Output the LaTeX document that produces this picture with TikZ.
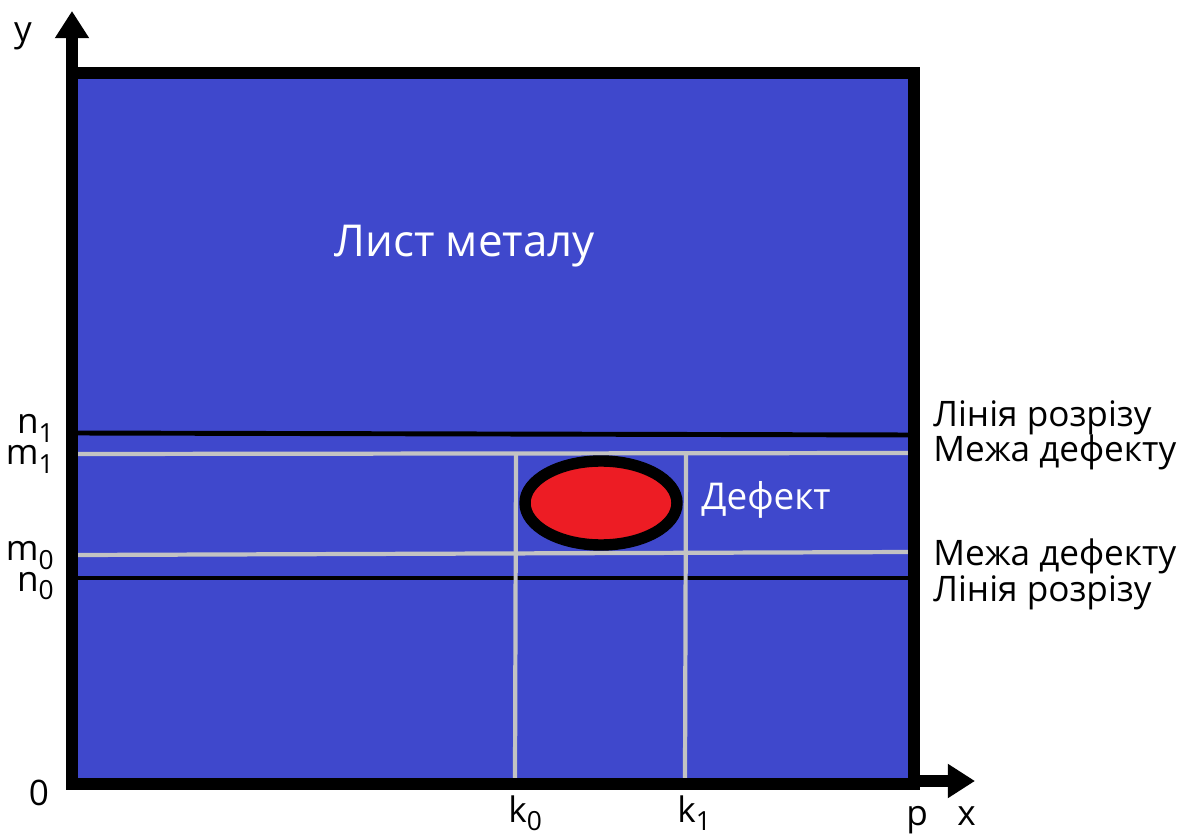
\documentclass[tikz,border=0pt]{standalone}
\usepackage{fontspec}
\setmainfont{Open Sans}
\usetikzlibrary{arrows.meta, positioning}

\definecolor{sheetblue}{RGB}{63,72,204}
\definecolor{defectred}{RGB}{237,28,36}
\definecolor{gridgrey}{RGB}{195,195,195}

\newcommand{\subl}[2]{#1\raisebox{-5pt}{\fontsize{15pt}{15pt}\selectfont #2}}

\begin{document}
\begin{tikzpicture}[
  x=0.02cm, y=-0.02cm,
  sheet/.style={fill=sheetblue},
  frame/.style={draw=black, line width=6.3pt},
  cutline/.style={draw=black, line width=2.8pt},
  defectline/.style={draw=gridgrey, line width=2.4pt},
  axis/.style={draw=black, line width=6.6pt, -{Triangle[width=18.5pt, length=15.5pt]}},
  lbl/.style={inner sep=0pt, font=\fontsize{20pt}{23pt}\selectfont},
  white lbl/.style={lbl, text=white}
]
\useasboundingbox (0,0) rectangle (1200,837);

% Sheet
\fill[sheet] (72,73) rectangle (914,784);
\coordinate (origin) at (72,784);
\coordinate (corner) at (914,73);

% Cut lines and defect bounds
\draw[cutline] (72,433) -- (914,435);
\draw[cutline] (72,578) -- (914,578);
\draw[defectline] (76,454) -- (908,453);
\draw[defectline] (78,555) -- (912,552);
\draw[defectline] (516,454) -- (515,780);
\draw[defectline] (686,454) -- (685,780);

% Defect
\draw[line width=6.5pt, fill=defectred] (601,503) ellipse [x radius=76, y radius=42];

% Frame
\draw[frame] (origin) rectangle (corner);

% Axes
\coordinate (ytip) at (72,11);
\coordinate (xtip) at (975,781);
\draw[axis] (72,78) -- (ytip);
\draw[axis] (909,781) -- (xtip);

% Labels
\node[white lbl, font=\fontsize{25pt}{28pt}\selectfont, anchor=base west] (title) at (334,257) {Лист металу};
\node[white lbl, font=\fontsize{21pt}{24pt}\selectfont, anchor=base west] (defect) at (701,510) {Дефект};

\node[lbl, anchor=base west] (cut1) at (933,427) {Лінія розрізу};
\node[lbl, anchor=base west] (bound1) at (933,462) {Межа дефекту};
\node[lbl, anchor=base west] (bound0) at (933,565) {Межа дефекту};
\node[lbl, anchor=base west] (cut0) at (933,602) {Лінія розрізу};

\node[lbl, anchor=base east] (n1) at (54,434) {\subl{n}{1}};
\node[lbl, anchor=base east] (m1) at (54,465) {\subl{m}{1}};
\node[lbl, anchor=base east] (m0) at (54,561) {\subl{m}{0}};
\node[lbl, anchor=base east] (n0) at (54,591) {\subl{n}{0}};

\node[lbl, anchor=base] (zero) at (39,805) {0};
\node[lbl, anchor=base] (ylbl) at (23,42) {y};
\node[lbl, anchor=base west] (k0) at (508,822) {\subl{k}{0}};
\node[lbl, anchor=base west] (k1) at (677,822) {\subl{k}{1}};
\node[lbl, anchor=base west] (plbl) at (906,825) {p};
\node[lbl, anchor=base west] (xlbl) at (957,825) {x};
\end{tikzpicture}
\end{document}
